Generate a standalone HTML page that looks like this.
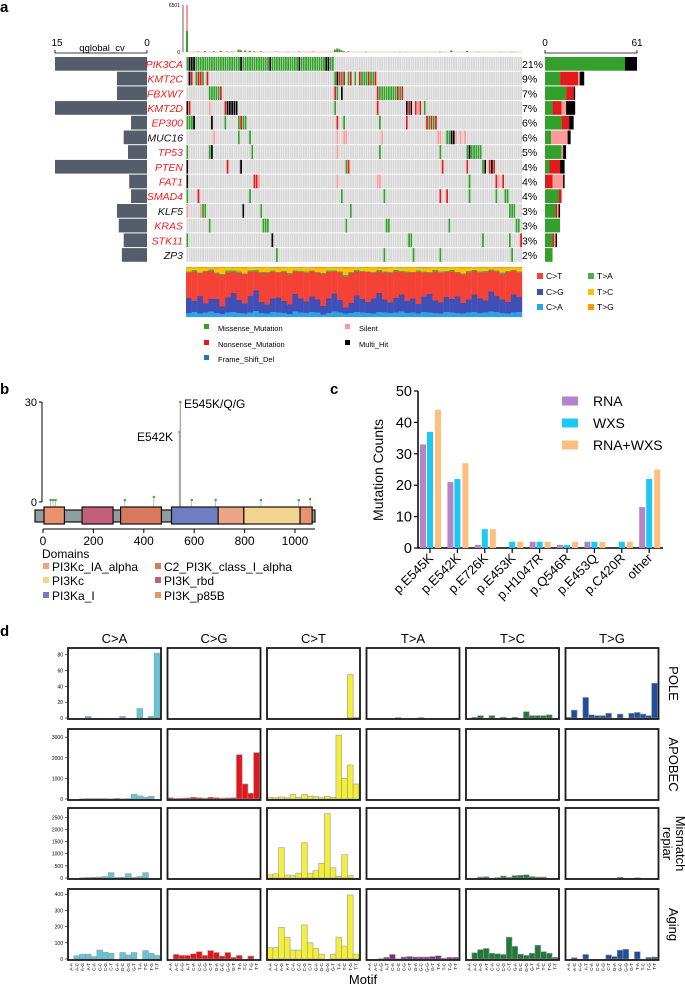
<!DOCTYPE html>
<html><head><meta charset="utf-8"><style>
html,body{margin:0;padding:0;background:#fff;}
svg{display:block;font-family:"Liberation Sans",sans-serif;}
</style></head><body>
<svg id="fig" xmlns="http://www.w3.org/2000/svg" width="685" height="988" viewBox="0 0 685 988">
<defs>
<pattern id="sep" x="186" y="0" width="2.24" height="10" patternUnits="userSpaceOnUse"><rect x="0" y="0" width="0.45" height="10" fill="#fff"/></pattern>
</defs>
<text x="0" y="12" font-size="15" font-weight="bold">a</text>
<text x="0" y="394" font-size="15" font-weight="bold">b</text>
<text x="330" y="394" font-size="15" font-weight="bold">c</text>
<text x="0" y="636" font-size="15" font-weight="bold">d</text>
</svg>
<script>
// ---------- DATA ----------
const genes = ["PIK3CA","KMT2C","FBXW7","KMT2D","EP300","MUC16","TP53","PTEN","FAT1","SMAD4","KLF5","KRAS","STK11","ZP3"];
const geneRed = [1,1,1,1,1,0,1,1,1,1,0,1,1,0];
const genePct = ["21%","9%","7%","7%","6%","6%","5%","4%","4%","4%","3%","3%","3%","2%"];
const qglobal = [15,4.9,4.9,15,2.6,3.8,3.1,15,2.9,2.6,4.9,4.6,3.8,4.1];
const geneMuts = [
"0-65:g 1:k 2:k 3:k 24:k 37:k 50:k 62:k 63:k",
"1:k 2:r 4:g 5:r 6:r 7:g 9:r 66:g 67:k 68:r 69:g 70:r 72:g 73:r 75:g 77:r 78:g 79:g 80:g 81:r 82:g 83:g 84:r",
"10-14:g 15:r 66:r 67:g 69:k 85:r 86-96:g 94:r 96:r",
"0:k 1:r 10:p 17:r 18-22:k 66:g 85:r 98:k 99:r 100:k 102:r 103:p 104:r 106:g",
"0:g 1:g 2:g 3:k 11:k 17:g 23:g 24:r 25:g 26:g 67:r 70:g 86:g 98:r 107:r 108:g 109:r 110:g 111:r",
"12:p 23:g 28:g 67:p 70:p 71:p 87:p 112:p 113:p 116:g 117:g 118:k 119:k 120:p 122:p 124:p",
"0:g 10:g 11:k 29:g 67:p 86:g 113:g 125:g 126:k 127-131:g",
"0:k 18:r 24:k 71:g 72:r 114:r 125:r 132:g 133:k 135:r 136:k 137:r",
"0:k 30:r 31:r 32:p 67:p 85:p 86:p 126:g 138:r 139:p 141:r",
"0:g 5:r 28:g 69:g 88:g 113:r 116:r 126:g 138:g 142:g 143:g",
"0:p 6:p 7:g 8:g 25:k 33:g 73:g 144:g 145:g 146:g",
"10:g 34:g 35:g 36:g 71:g 89:g 90:g 117:g 147:g 148:g",
"0:g 38:k 99:g 100:g 132:g 144:g 149:r",
"40:g 88:g 101:g 113:g 145:g"];
const cntMissense = [53,10,14,5,11,4,11,3,0,9,7,10,5,5];
const cntNonsense = [0,12,5,6,5,0,0,7,5,2,1,0,1,0];
const cntSilent   = [0,1,0,3,0,11,1,0,7,0,1,0,1,0];
const cntMulti    = [8,3,1,6,3,2,2,3,1,0,1,0,1,0];
const tmbIdx = [0,5,8,12,15,18,20,23,24,26,28,30,33,40,45,50,56,66,67,68,69,70,72,80,95,113,118,125,130,140,145];
const tmbMiss = [2900,60,120,90,150,80,60,300,250,200,150,100,80,60,50,60,60,300,400,350,200,100,80,50,40,60,200,150,50,40,50];
const tmbSil  = [3601,20,30,20,40,20,20,80,50,60,40,30,20,20,10,20,20,100,150,120,60,30,20,20,10,20,60,40,20,10,20];
const specCA = [0.08,0.10,0.07,0.09,0.11,0.08,0.06,0.09,0.10,0.08,0.07,0.09,0.12,0.08,0.07,0.10,0.09,0.08,0.06,0.11,0.09,0.08,0.10,0.09,0.05,0.08,0.11,0.09,0.07,0.08,0.10,0.09,0.08,0.07,0.10,0.09,0.08,0.09,0.11,0.08,0.09,0.07,0.10,0.09,0.08,0.07,0.10,0.09,0.08,0.07,0.09,0.10,0.08,0.09,0.11,0.10,0.08,0.07,0.09,0.10];
const specCG = [0.30,0.22,0.35,0.18,0.25,0.28,0.15,0.30,0.38,0.26,0.20,0.33,0.41,0.22,0.18,0.27,0.30,0.24,0.19,0.35,0.28,0.23,0.31,0.26,0.17,0.29,0.36,0.25,0.12,0.20,0.33,0.27,0.22,0.30,0.38,0.26,0.21,0.29,0.34,0.24,0.28,0.19,0.31,0.37,0.25,0.22,0.30,0.27,0.33,0.21,0.26,0.35,0.29,0.24,0.40,0.32,0.27,0.23,0.36,0.30];
const specTA = [0.02,0.03,0.02,0.01,0.03,0.02,0.02,0.04,0.02,0.03,0.01,0.02,0.03,0.02,0.02,0.03,0.01,0.02,0.03,0.02,0.02,0.03,0.02,0.01,0.02,0.03,0.02,0.02,0.04,0.02,0.03,0.02,0.01,0.02,0.03,0.02,0.02,0.03,0.02,0.02,0.01,0.03,0.02,0.02,0.03,0.02,0.02,0.03,0.01,0.02,0.03,0.02,0.02,0.03,0.02,0.02,0.03,0.02,0.01,0.02];
const specTC = [0.07,0.05,0.09,0.06,0.04,0.08,0.12,0.06,0.05,0.07,0.10,0.06,0.04,0.08,0.09,0.05,0.07,0.06,0.11,0.05,0.06,0.08,0.05,0.07,0.10,0.06,0.05,0.07,0.13,0.08,0.05,0.06,0.07,0.09,0.04,0.06,0.08,0.05,0.06,0.07,0.09,0.05,0.06,0.08,0.05,0.07,0.06,0.05,0.08,0.10,0.06,0.05,0.07,0.06,0.04,0.05,0.08,0.06,0.05,0.07];
const specTG = [0.02,0.01,0.02,0.02,0.01,0.03,0.02,0.01,0.02,0.02,0.03,0.01,0.02,0.02,0.01,0.02,0.03,0.02,0.01,0.02,0.02,0.01,0.02,0.03,0.02,0.01,0.02,0.02,0.03,0.02,0.01,0.02,0.02,0.01,0.02,0.03,0.02,0.01,0.02,0.02,0.01,0.02,0.03,0.02,0.01,0.02,0.02,0.01,0.02,0.03,0.02,0.01,0.02,0.02,0.01,0.02,0.03,0.02,0.01,0.02];
// panel b
const lolliPos = [30,40,50,325,440,542,545,590,685,865,1015,1060];
const lolliCnt = [1,1,1,1,2.5,21,30,1,1,1,1,1.5];
const domainNames = ["PI3K_p85B","PI3K_rbd","C2_PI3K_class_I_alpha","PI3Ka_I","PI3Kc_IA_alpha","PI3Kc","PI3K_p85B"];
const domainStart = [4,155,308,510,695,797,1020];
const domainEnd = [85,278,470,695,797,1020,1068];
const xTicksB = [0,200,400,600,800,1000];
// panel c
const cCats = ["p.E545K","p.E542K","p.E726K","p.E453K","p.H1047R","p.Q546R","p.E453Q","p.C420R","other"];
const cRNA = [33,21,1,0,2,1,2,0,13];
const cWXS = [37,22,6,2,2,1,2,2,22];
const cBoth = [44,27,6,2,2,2,2,2,25];
const cTicks = [0,10,20,30,40,50];
// panel d
const dCols = ["C>A","C>G","C>T","T>A","T>C","T>G"];
const dRows = ["POLE","APOBEC","Mismatch repiar","Aging"];
const motifs = ["A-A","A-C","A-G","A-T","C-A","C-C","C-G","C-T","G-A","G-C","G-G","G-T","T-A","T-C","T-G","T-T"];
const dMax = [86,3300,2800,420];
const dTicks = [[0,20,40,60,80],[0,1000,2000,3000],[0,500,1000,1500,2000,2500],[0,100,200,300,400]];
const dPOLE = [
[0,0,0,2,0,0,0,0,0,2,0,0,12,0,2,82],
[0,0,0,0,0,0,0,0,0,0,0,0,0,0,0,0],
[0,0,0,0,0,0,0,0,0,0,0,0,0,0,55,1],
[0,0,0,0,0,0.5,0,0,0,0.5,0,0,0,0,0,0],
[0,1,3,0,3,0,1,0,1,0,8,3,3,3,4,0],
[1,10,0,26,4,3,3,6,0,5,0,6,7,5,3,44]];
const dAPOBEC = [
[0,0,10,20,20,20,20,10,30,10,20,230,150,80,130,0],
[60,30,40,50,80,60,40,80,60,40,50,60,2150,730,280,2250],
[80,60,100,60,220,80,220,130,130,60,130,80,3100,1000,1650,730],
[0,0,0,0,0,0,0,0,0,0,0,0,0,0,0,0],
[0,0,0,0,0,0,0,0,0,0,0,0,0,0,0,0],
[0,0,0,0,0,0,0,0,0,0,0,0,0,0,0,0]];
const dMMR = [
[0,0,10,20,30,40,60,220,20,30,180,20,60,220,0,0],
[0,0,0,0,0,0,0,0,0,0,0,0,0,0,0,0],
[130,170,1250,120,100,200,1450,180,300,600,2650,420,70,960,100,0],
[0,0,0,0,0,0,0,0,0,0,0,0,0,0,0,0],
[0,0,40,50,0,20,80,30,100,110,130,60,40,40,0,0],
[0,0,0,0,0,0,0,0,0,30,0,0,10,0,0,0]];
const dAging = [
[0,20,30,30,15,55,42,35,0,40,25,40,0,52,35,22],
[0,28,22,22,32,45,22,52,40,18,40,10,22,0,18,0],
[70,70,195,135,55,55,210,100,65,30,0,30,135,80,395,30],
[0,0,2,10,28,2,12,15,12,12,12,15,20,5,10,10],
[0,38,58,65,35,32,28,135,78,30,22,35,85,45,35,10],
[0,8,0,28,0,0,0,25,15,55,60,0,45,0,10,12]];
const dData = [dPOLE,dAPOBEC,dMMR,dAging];

// ---------- HELPERS ----------
const NS="http://www.w3.org/2000/svg";
const svg=document.getElementById('fig');
function mk(tag,attrs,txt){const e=document.createElementNS(NS,tag);for(const k in attrs)e.setAttribute(k,attrs[k]);if(txt!==undefined)e.textContent=txt;svg.appendChild(e);return e;}
const MC={g:"#33a02c",r:"#e31a1c",p:"#fb9a99",k:"#000000",b:"#1f78b4"};

// ---------- PANEL A ----------
const rowY0=57, rowH=14.7, mx0=186, mx1=522, N=150, cw=(mx1-mx0)/N;
const tmbBase=52, tmbTop=5, tmbMax=6501;
function tmbY(v){return tmbBase-(v/tmbMax)*(tmbBase-tmbTop);}
let ln=mk('line',{x1:183,y1:tmbTop,x2:183,y2:tmbBase,stroke:"#000","stroke-width":0.6});


let t=mk('text',{x:180,y:tmbTop+2,"font-size":5,"text-anchor":"end"},"6501");


t=mk('text',{x:180,y:tmbBase+2,"font-size":5,"text-anchor":"end"},"0");


ln=mk('line',{x1:mx0,y1:tmbBase,x2:mx1,y2:tmbBase,stroke:"#f3c9c0","stroke-width":1});


tmbIdx.forEach((s,i)=>{
  const x=mx0+s*cw;
  const y1=tmbY(tmbMiss[i]);
  let r=mk('rect',{x:x,y:y1,width:cw*0.9,height:tmbBase-y1,fill:MC.g});
  
  
  const y2=tmbY(tmbMiss[i]+tmbSil[i]);
  r=mk('rect',{x:x,y:y2,width:cw*0.9,height:y1-y2,fill:MC.p});
  
  
});
const qx1=147, qx0=55, qMax=15;
ln=mk('path',{d:`M${qx0},50 V53 H${qx1} V50`,stroke:"#000",fill:"none","stroke-width":0.8});


t=mk('text',{x:57,y:46,"font-size":10,"text-anchor":"middle"},"15");


t=mk('text',{x:147,y:46,"font-size":10,"text-anchor":"middle"},"0");


t=mk('text',{x:102,y:51,"font-size":9.5,"text-anchor":"middle"},"qglobal_cv");


const rx0=545, rx1=637, rMax=61;
function rX(v){return rx0+v/rMax*(rx1-rx0);}
ln=mk('path',{d:`M${rx0},50 V53 H${rx1} V50`,stroke:"#000",fill:"none","stroke-width":0.8});


t=mk('text',{x:rx0,y:46,"font-size":10,"text-anchor":"middle"},"0");


t=mk('text',{x:rx1,y:46,"font-size":10,"text-anchor":"middle"},"61");



genes.forEach((g,gi)=>{
  const y=rowY0+gi*rowH;
  const h=rowH-1;
  const w=Math.min(qglobal[gi],qMax)/qMax*(qx1-qx0);
  let r=mk('rect',{x:qx1-w,y:y,width:w,height:h,fill:"#555d6b"});
  
  
  let tx=mk('text',{x:183,y:y+h/2+4,"font-size":10.5,"font-style":"italic","text-anchor":"end",fill:geneRed[gi]?"#ff1a1a":"#111"},g);
  
  
  r=mk('rect',{x:mx0,y:y,width:mx1-mx0,height:h,fill:"#d6d6d6"});
  
  
  const m={};
  geneMuts[gi].split(" ").forEach(tok=>{
    const [rng,tp]=tok.split(":");
    const p=rng.split("-").map(Number);
    const a=p[0], b=p.length>1?p[1]:p[0];
    for(let s=a;s<=b;s++) m[s]=tp;
  });
  for(const s in m){
    const c=mk('rect',{x:mx0+s*cw,y:y,width:cw,height:h,fill:MC[m[s]]});
    
    
  }
  r=mk('rect',{x:mx0,y:y,width:mx1-mx0,height:h,fill:"url(#sep)"});
  
  
  tx=mk('text',{x:522,y:y+h/2+4,"font-size":10.5},genePct[gi]);
  
  
  let acc=0;
  [[cntMissense,MC.g],[cntNonsense,MC.r],[cntSilent,MC.p],[cntMulti,MC.k]].forEach(([arr,col])=>{
    const v=arr[gi]; if(!v) return;
    const s=mk('rect',{x:rX(acc),y:y,width:rX(acc+v)-rX(acc),height:h,fill:col});
    
    
    acc+=v;
  });
});
const spY0=267, spY1=317, spN=specCA.length, spW=(mx1-mx0)/spN;
const SC={CA:"#2aa4e8",CG:"#3f4fb5",CT:"#f44336",TA:"#4caf50",TC:"#ffc107",TG:"#ff9800"};
for(let i=0;i<spN;i++){
  const parts=[["CA",specCA[i]],["CG",specCG[i]],["CT",1-specCA[i]-specCG[i]-specTA[i]-specTC[i]-specTG[i]],["TA",specTA[i]],["TC",specTC[i]],["TG",specTG[i]]];
  let acc=0;
  parts.forEach(([k,v])=>{
    const yb=spY1-acc*(spY1-spY0), yt=spY1-(acc+v)*(spY1-spY0);
    const r=mk('rect',{x:mx0+i*spW,y:yt,width:spW+0.2,height:yb-yt,fill:SC[k]});
    
    
    acc+=v;
  });
}
[["C>T","CT",537,276],["C>G","CG",537,292],["C>A","CA",537,307],["T>A","TA",588,276],["T>C","TC",588,292],["T>G","TG",588,307]].forEach(([lab,k,x,y])=>{
  const r=mk('rect',{x:x,y:y-3,width:6,height:6,fill:SC[k]});
  
  
  const tx=mk('text',{x:x+9,y:y+3,"font-size":8.5},lab);
  
  
});
[["Missense_Mutation",MC.g,206,328],["Nonsense_Mutation",MC.r,206,344],["Frame_Shift_Del",MC.b,206,359],["Silent",MC.p,347,328],["Multi_Hit",MC.k,347,344]].forEach(([lab,c,x,y])=>{
  const r=mk('rect',{x:x-2,y:y-4,width:5,height:5,fill:c});
  
  
  const tx=mk('text',{x:x+12,y:y+3,"font-size":7.5},lab);
  
  
});

// ---------- PANEL B ----------
const bX0=43, bX1=295, bY0=502, bY1=402, bMax=30;
function bx(v){return bX0+v/1000*(bX1-bX0);}
function by(v){return bY0-v/bMax*(bY0-bY1);}
ln=mk('line',{x1:42,y1:bY1,x2:42,y2:bY0,stroke:"#000","stroke-width":1});


[[0,"0"],[30,"30"]].forEach(([v,l])=>{
  const tk=mk('line',{x1:39,y1:by(v),x2:42,y2:by(v),stroke:"#000"});
  
  
  const tx=mk('text',{x:37,y:by(v)+4,"font-size":11,"text-anchor":"end"},l);
  
  
});
lolliPos.forEach((p,i)=>{
  const h=lolliCnt[i];
  const ytop=h>=5?by(h):bY0-h*2;
  const l=mk('line',{x1:bx(p),y1:508,x2:bx(p),y2:ytop,stroke:"#aaa","stroke-width":h>=5?1.4:0.7});
  
  
  const c=mk('circle',{cx:bx(p),cy:ytop,r:1.3,fill:"#4cae4c"});
  
  
});
t=mk('text',{x:184,y:408,"font-size":12},"E545K/Q/G");


t=mk('text',{x:173,y:441,"font-size":12,"text-anchor":"end"},"E542K");


let bk=mk('rect',{x:35,y:510,width:280,height:12,fill:"#8f9e9e",stroke:"#111","stroke-width":1.2});


const domCol={"PI3K_p85B":"#e8926e","PI3K_rbd":"#c2607c","C2_PI3K_class_I_alpha":"#d9795e","PI3Ka_I":"#6f7ec2","PI3Kc_IA_alpha":"#eba585","PI3Kc":"#f1d48f"};
domainNames.forEach((d,i)=>{
  const r=mk('rect',{x:bx(domainStart[i]),y:507,width:bx(domainEnd[i])-bx(domainStart[i]),height:17,fill:domCol[d],stroke:"#111","stroke-width":1.2});
  
  
});
ln=mk('line',{x1:bX0,y1:529,x2:315,y2:529,stroke:"#000"});


xTicksB.forEach(v=>{
  const tk=mk('line',{x1:bx(v),y1:529,x2:bx(v),y2:533,stroke:"#000"});
  
  
  const tx=mk('text',{x:bx(v),y:545,"font-size":12,"text-anchor":"middle"},String(v));
  
  
});
t=mk('text',{x:42,y:558,"font-size":12},"Domains");


[["PI3Kc_IA_alpha",43,571],["PI3Kc",43,585],["PI3Ka_I",43,600],["C2_PI3K_class_I_alpha",155,571],["PI3K_rbd",155,585],["PI3K_p85B",155,600]].forEach(([d,x,y])=>{
  const r=mk('rect',{x:x,y:y-8,width:6,height:6,fill:domCol[d]});
  
  
  const tx=mk('text',{x:x+9,y:y,"font-size":12},d);
  
  
});

// ---------- PANEL C ----------
const cY0=548, cY1=391, cMax=50, cXa=418, cXb=663, cStep=27.4, cFirst=430;
function cy(v){return cY0-v/cMax*(cY0-cY1);}
function cx(i){return cFirst+i*cStep;}
ln=mk('line',{x1:cXa,y1:cY1,x2:cXa,y2:cY0,stroke:"#000","stroke-width":1.5});


ln=mk('line',{x1:cXa,y1:cY0,x2:cXb,y2:cY0,stroke:"#000","stroke-width":1.5});


cTicks.forEach(v=>{
  const tk=mk('line',{x1:cXa-4,y1:cy(v),x2:cXa,y2:cy(v),stroke:"#000","stroke-width":1.2});
  
  
  const tx=mk('text',{x:cXa-6,y:cy(v)+5,"font-size":14.5,"text-anchor":"end"},String(v));
  
  
});
t=mk('text',{x:0,y:0,"font-size":14,"text-anchor":"middle",transform:"translate(383,470) rotate(-90)"},"Mutation Counts");


const cCol=["#b285c8","#1ec8f5","#fdbf7e"];
const cOff=[-10,-3,5];
cCats.forEach((c,i)=>{
  [cRNA,cWXS,cBoth].forEach((arr,k)=>{
    const v=arr[i];
    const r=mk('rect',{x:cx(i)+cOff[k],y:cy(v),width:6,height:cY0-cy(v),fill:cCol[k]});
    
    
  });
  const tk=mk('line',{x1:cx(i),y1:cY0,x2:cx(i),y2:cY0+5,stroke:"#000","stroke-width":1.2});
  
  
  const tx=mk('text',{x:0,y:0,"font-size":13,"text-anchor":"end",transform:`translate(${cx(i)+4},${cY0+11}) rotate(-45)`},c);
  
  
});
[["RNA",0,401],["WXS",1,423],["RNA+WXS",2,445]].forEach(([l,k,y])=>{
  const r=mk('rect',{x:562,y:y-4.5,width:16,height:9,fill:cCol[k]});
  
  
  const tx=mk('text',{x:593,y:y+5,"font-size":14},l);
  
  
});

// ---------- PANEL D ----------
const dColX=[68,167.5,267,366.5,466,565.5], dRowY=[648,729,808,889], dW=93, dH=71;
const dColors=["#62c6d8","#e8141b","#f2ee3a","#7b2d8b","#1f7a3a","#1f4e9c"];
dCols.forEach((c,ci)=>{
  const tx=mk('text',{x:dColX[ci]+dW/2,y:643,"font-size":13,"text-anchor":"middle"},c);
  
  
});
dRows.forEach((rn,ri)=>{
  const y0=dRowY[ri];
  function dy(v){return y0+dH-1-v/dMax[ri]*(dH-3);}
  dTicks[ri].forEach(v=>{
    const tk=mk('line',{x1:65,y1:dy(v),x2:68,y2:dy(v),stroke:"#000","stroke-width":0.6});
    
    
    const tx=mk('text',{x:63,y:dy(v)+2,"font-size":5,"text-anchor":"end"},String(v));
    
    
  });
  dCols.forEach((c,ci)=>{
    const x0=dColX[ci];
    const step=(dW-7)/15;
    dData[ri][ci].forEach((v,mi)=>{
      if(v<=0) return;
      const yv=dy(v);
      const r=mk('rect',{x:x0+3+mi*step-step/2,y:yv,width:step,height:y0+dH-1-yv,fill:dColors[ci],stroke:"#9a9a9a","stroke-width":0.6});
      
      
    });
    const b=mk('rect',{x:x0,y:y0,width:dW,height:dH,fill:"none",stroke:"#1a1a1a","stroke-width":1.8});
    
    
    if(ri===3){
      motifs.forEach((m,mi)=>{
        const tx=mk('text',{x:0,y:0,"font-size":4.6,"text-anchor":"end",transform:`translate(${x0+3+mi*step+1.6},${y0+dH+3}) rotate(-90)`},m);
        
        
      });
    }
  });
  const cyy=y0+dH/2;
  if(rn==="Mismatch repiar"){
    const tx=mk('text',{x:0,y:0,"font-size":13,"text-anchor":"middle",transform:`translate(676,${cyy}) rotate(90)`},"Mismatch");
    
    
    const tx2=mk('text',{x:0,y:0,"font-size":13,"text-anchor":"middle",transform:`translate(663,${cyy}) rotate(90)`},"repiar");
    
    
  } else {
    const tx=mk('text',{x:0,y:0,"font-size":13,"text-anchor":"middle",transform:`translate(669,${cyy}) rotate(90)`},rn);
    
    
  }
});
t=mk('text',{x:363,y:984,"font-size":13,"text-anchor":"middle"},"Motif");


</script>
</body></html>
